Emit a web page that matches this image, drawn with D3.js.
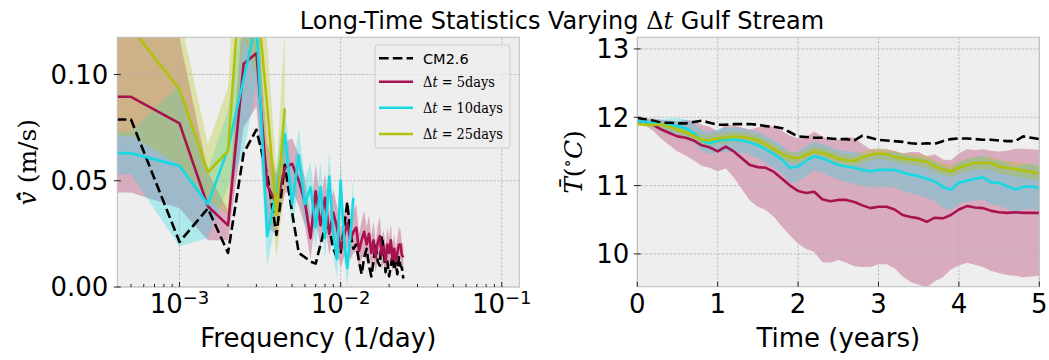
<!DOCTYPE html>
<html><head><meta charset="utf-8">
<script src="https://cdn.jsdelivr.net/npm/d3@7"></script>
<style>body{margin:0;background:#fff}</style>
</head><body>
<svg id="chart" width="1049" height="360" xmlns="http://www.w3.org/2000/svg"></svg>
<script>
// ---------- DATA: left panel (spectra) ----------
const freq = [0, 0.0005, 0.001, 0.0015, 0.002, 0.0025, 0.003, 0.0035, 0.004, 0.0045,
  0.005, 0.0055, 0.006, 0.0065, 0.007, 0.0075, 0.008, 0.0085, 0.009, 0.0095,
  0.01, 0.0105, 0.011, 0.0115, 0.012, 0.0125, 0.013, 0.0135, 0.014, 0.0145,
  0.015, 0.0155, 0.016, 0.0165, 0.017, 0.0175, 0.018, 0.0185, 0.019, 0.0195,
  0.02, 0.0205, 0.021, 0.0215, 0.022, 0.0225, 0.023, 0.0235, 0.024, 0.0245];
const specCM26 = [0.0788, 0.0788, 0.0212, 0.037, 0.016, 0.063, 0.074, 0.053, 0.0245, 0.0575,
  0.035, 0.016, 0.014, 0.012, 0.011, 0.020, 0.028, 0.028, 0.018, 0.014,
  0.016, 0.028, 0.040, 0.025, 0.018, 0.020, 0.012, 0.006, 0.014, 0.018,
  0.010, 0.005, 0.012, 0.020, 0.012, 0.010, 0.024, 0.018, 0.007, 0.012,
  0.005, 0.010, 0.015, 0.008, 0.012, 0.006, 0.014, 0.010, 0.009, 0.004];
const spec5 = [0.0895, 0.0895, 0.077, 0.038, 0.029, 0.105, 0.110, 0.048, 0.039, 0.056,
  0.058, 0.050, 0.040, 0.023, 0.045, 0.029, 0.042, 0.025, 0.035, 0.028,
  0.018, 0.024, 0.030, 0.022, 0.026, 0.028, 0.017, 0.022, 0.026, 0.020,
  0.025, 0.016, 0.022, 0.014, 0.021, 0.024, 0.015, 0.019, 0.012, 0.020,
  0.016, 0.022, 0.013, 0.018, 0.012, 0.016, 0.020, 0.020, 0.015, 0.014];
const spec5Spread = [0.045, 0.045, 0.040, 0.016, 0.007, 0.030, 0.025, 0.020, 0.014, 0.012,
  0.012, 0.012, 0.011, 0.010, 0.013, 0.010, 0.012, 0.010, 0.011, 0.010,
  0.009, 0.010, 0.011, 0.009, 0.010, 0.011, 0.008, 0.009, 0.010, 0.008,
  0.009, 0.008, 0.009, 0.007, 0.008, 0.009, 0.007, 0.008, 0.007, 0.008,
  0.007, 0.008, 0.006, 0.007, 0.006, 0.007, 0.008, 0.007, 0.006, 0.006];
const spec10 = [0.063, 0.063, 0.057, 0.039, 0.065, 0.098, 0.125, 0.024, 0.045, 0.072,
  0.039, 0.062, 0.039, 0.047, 0.028, 0.047, 0.023, 0.052, 0.025, 0.013,
  0.050, 0.022, 0.009, 0.025, 0.042];
const spec10Spread = [0.010, 0.010, 0.038, 0.016, 0.018, 0.035, 0.030, 0.014, 0.012, 0.014,
  0.012, 0.013, 0.011, 0.012, 0.010, 0.012, 0.010, 0.012, 0.010, 0.009,
  0.011, 0.009, 0.008, 0.009, 0.010];
const spec25 = [0.122, 0.122, 0.093, 0.054, 0.064, 0.167, 0.140, 0.085, 0.034, 0.084];
const spec25Spread = [0.051, 0.051, 0.0355, 0.013, 0.030, 0.050, 0.040, 0.030, 0.020, 0.038];

// ---------- DATA: right panel (temperature) ----------
const years = [0, 0.1, 0.2, 0.3, 0.4, 0.5, 0.6, 0.7, 0.8, 0.9,
  1.0, 1.1, 1.2, 1.3, 1.4, 1.5, 1.6, 1.7, 1.8, 1.9,
  2.0, 2.1, 2.2, 2.3, 2.4, 2.5, 2.6, 2.7, 2.8, 2.9,
  3.0, 3.1, 3.2, 3.3, 3.4, 3.5, 3.6, 3.7, 3.8, 3.9,
  4.0, 4.1, 4.2, 4.3, 4.4, 4.5, 4.6, 4.7, 4.8, 4.9, 5.0];
const tempCM26 = [11.99, 11.97, 11.95, 11.92, 11.92, 11.91, 11.91, 11.93, 11.95, 11.92,
  11.89, 11.89, 11.90, 11.90, 11.90, 11.89, 11.87, 11.86, 11.84, 11.78,
  11.72, 11.71, 11.70, 11.70, 11.69, 11.68, 11.68, 11.66, 11.73, 11.70,
  11.67, 11.66, 11.65, 11.64, 11.62, 11.61, 11.62, 11.61, 11.65, 11.68,
  11.69, 11.69, 11.68, 11.67, 11.67, 11.66, 11.65, 11.65, 11.72, 11.70, 11.68];
const temp5 = [11.95, 11.93, 11.89, 11.82, 11.77, 11.72, 11.70, 11.66, 11.59, 11.56,
  11.50, 11.57, 11.50, 11.40, 11.30, 11.27, 11.26, 11.20, 11.10, 11.00,
  10.92, 10.89, 10.91, 10.80, 10.77, 10.79, 10.79, 10.76, 10.71, 10.67,
  10.69, 10.69, 10.65, 10.57, 10.54, 10.52, 10.47, 10.53, 10.52, 10.57,
  10.65, 10.70, 10.68, 10.67, 10.63, 10.61, 10.60, 10.61, 10.60, 10.60, 10.60];
const temp5Spread = [0.02, 0.05, 0.09, 0.14, 0.18, 0.22, 0.26, 0.29, 0.30, 0.30,
  0.29, 0.32, 0.38, 0.45, 0.52, 0.58, 0.62, 0.66, 0.70, 0.73,
  0.77, 0.82, 0.88, 0.92, 0.90, 0.88, 0.92, 0.94, 0.90, 0.86,
  0.84, 0.84, 0.86, 0.90, 0.95, 0.97, 0.96, 0.93, 0.86, 0.80,
  0.82, 0.83, 0.84, 0.86, 0.88, 0.89, 0.91, 0.93, 0.94, 0.93, 0.92];
const temp10 = [11.95, 11.93, 11.91, 11.89, 11.88, 11.87, 11.84, 11.77, 11.66, 11.62,
  11.66, 11.67, 11.67, 11.66, 11.63, 11.59, 11.53, 11.46, 11.38, 11.26,
  11.28, 11.36, 11.43, 11.40, 11.35, 11.30, 11.28, 11.26, 11.23, 11.21,
  11.23, 11.23, 11.23, 11.19, 11.16, 11.14, 11.10, 11.06, 10.98, 10.94,
  11.04, 11.07, 11.10, 11.12, 11.05, 11.04, 10.99, 10.94, 10.98, 10.99, 10.96];
const temp10Spread = [0.02, 0.04, 0.06, 0.08, 0.10, 0.12, 0.13, 0.14, 0.15, 0.16,
  0.17, 0.18, 0.18, 0.18, 0.18, 0.19, 0.20, 0.20, 0.21, 0.22,
  0.22, 0.22, 0.21, 0.21, 0.22, 0.22, 0.23, 0.23, 0.24, 0.24,
  0.25, 0.25, 0.26, 0.27, 0.27, 0.28, 0.28, 0.29, 0.30, 0.30,
  0.31, 0.31, 0.32, 0.32, 0.33, 0.33, 0.33, 0.33, 0.33, 0.33, 0.33];
const temp25 = [11.90, 11.89, 11.89, 11.89, 11.86, 11.82, 11.78, 11.73, 11.67, 11.66,
  11.69, 11.70, 11.72, 11.71, 11.69, 11.66, 11.60, 11.53, 11.46, 11.41,
  11.40, 11.45, 11.50, 11.48, 11.44, 11.39, 11.37, 11.36, 11.41, 11.45,
  11.47, 11.46, 11.42, 11.40, 11.38, 11.37, 11.35, 11.28, 11.24, 11.21,
  11.26, 11.30, 11.33, 11.33, 11.33, 11.28, 11.26, 11.24, 11.22, 11.20, 11.18];
const temp25Spread = [0.02, 0.03, 0.04, 0.05, 0.05, 0.06, 0.06, 0.07, 0.07, 0.08,
  0.08, 0.08, 0.08, 0.08, 0.08, 0.08, 0.08, 0.08, 0.08, 0.08,
  0.08, 0.08, 0.08, 0.08, 0.08, 0.08, 0.08, 0.08, 0.08, 0.08,
  0.08, 0.08, 0.08, 0.08, 0.08, 0.09, 0.09, 0.09, 0.09, 0.09,
  0.09, 0.09, 0.09, 0.09, 0.10, 0.10, 0.10, 0.10, 0.11, 0.11, 0.11];

// ---------- labels / ticks ----------
const titleParts = ["Long-Time Statistics Varying ", "\u0394", "t", " Gulf Stream"];
const seriesNames = ["CM2.6", "5days", "10days", "25days"];
const leftXTicks = [1e-3, 1e-2, 1e-1];
const leftXTickExp = ["\u22123", "\u22122", "\u22121"];
const leftYTicks = [0, 0.05, 0.10];
const leftYTickLabels = ["0.00", "0.05", "0.10"];
const rightXTicks = [0, 1, 2, 3, 4, 5];
const rightYTicks = [10, 11, 12, 13];
const leftXLabel = "Frequency (1/day)";
const rightXLabel = "Time (years)";

// ---------- styles ----------
const SANS = "DejaVu Sans", SERIF = "DejaVu Serif";
const BG = "#eeeeee", SPINE = "#bcbcbc", GRID = "#b2b2b2";
const COL = ["#000000", "#a8124f", "#16d9e3", "#b2c20c"];
const FILL_OP = 0.3, LW = 2.6;

const svg = d3.select("#chart");

// scales
const xL = d3.scaleLog().domain([4.11e-4, 0.1285]).range([117.3, 519.3]);
const yL = d3.scaleLinear().domain([0, 0.1175]).range([287, 37.3]);
const xR = d3.scaleLinear().domain([0, 5]).range([637.3, 1039.3]);
const yR = d3.scaleLinear().domain([9.52, 13.17]).range([286.7, 37.3]);
const fx = f => xL(f > 0 ? f : 1e-300); // matplotlib-like clipping of non-positive on log axis

function makePanel(id, x, y) {
  const [x0, x1] = x.range(), [yb, yt] = y.range();
  svg.append("rect").attr("x", x0).attr("y", yt).attr("width", x1 - x0).attr("height", yb - yt).attr("fill", BG);
  svg.append("clipPath").attr("id", id).append("rect")
    .attr("x", x0).attr("y", yt).attr("width", x1 - x0).attr("height", yb - yt);
  return {
    fills: svg.append("g").attr("clip-path", `url(#${id})`),
    grid: svg.append("g"),
    lines: svg.append("g").attr("clip-path", `url(#${id})`),
    axes: svg.append("g"),
    x0, x1, yb, yt
  };
}

const P1 = makePanel("clipL", xL, yL);
const P2 = makePanel("clipR", xR, yR);

// ---------- left panel marks ----------
const specSeries = [
  {v: specCM26, s: null, c: COL[0], dash: true},
  {v: spec5, s: spec5Spread, c: COL[1]},
  {v: spec10, s: spec10Spread, c: COL[2]},
  {v: spec25, s: spec25Spread, c: COL[3]}
];
specSeries.forEach(ser => {
  if (!ser.s) return;
  const pts = ser.v.map((v, i) => ({f: freq[i], lo: v - ser.s[i], hi: v + ser.s[i]}));
  P1.fills.append("path").attr("d", d3.area().x(d => fx(d.f)).y0(d => yL(d.lo)).y1(d => yL(d.hi))(pts))
    .attr("fill", ser.c).attr("fill-opacity", FILL_OP);
});
specSeries.forEach(ser => {
  const pts = ser.v.map((v, i) => [freq[i], v]);
  P1.lines.append("path").attr("d", d3.line().x(d => fx(d[0])).y(d => yL(d[1]))(pts))
    .attr("fill", "none").attr("stroke", ser.c).attr("stroke-width", LW)
    .attr("stroke-linejoin", "round")
    .attr("stroke-dasharray", ser.dash ? "9.6,4.2" : null);
});

// ---------- right panel marks ----------
const tempSeries = [
  {v: tempCM26, s: null, c: COL[0], dash: true},
  {v: temp5, s: temp5Spread, c: COL[1]},
  {v: temp10, s: temp10Spread, c: COL[2]},
  {v: temp25, s: temp25Spread, c: COL[3]}
];
tempSeries.forEach(ser => {
  if (!ser.s) return;
  const pts = ser.v.map((v, i) => ({t: years[i], lo: v - ser.s[i], hi: v + ser.s[i]}));
  P2.fills.append("path").attr("d", d3.area().x(d => xR(d.t)).y0(d => yR(d.lo)).y1(d => yR(d.hi))(pts))
    .attr("fill", ser.c).attr("fill-opacity", FILL_OP);
});
tempSeries.forEach(ser => {
  const pts = ser.v.map((v, i) => [years[i], v]);
  P2.lines.append("path").attr("d", d3.line().x(d => xR(d[0])).y(d => yR(d[1]))(pts))
    .attr("fill", "none").attr("stroke", ser.c).attr("stroke-width", LW)
    .attr("stroke-linejoin", "round")
    .attr("stroke-dasharray", ser.dash ? "9.6,4.2" : null);
});

// ---------- grids ----------
function grid(P, xs, ys, x, y) {
  xs.forEach(v => P.grid.append("line").attr("x1", x(v)).attr("x2", x(v)).attr("y1", P.yt).attr("y2", P.yb)
    .attr("stroke", GRID).attr("stroke-width", 0.8).attr("stroke-dasharray", "2.5,1.5"));
  ys.forEach(v => P.grid.append("line").attr("x1", P.x0).attr("x2", P.x1).attr("y1", y(v)).attr("y2", y(v))
    .attr("stroke", GRID).attr("stroke-width", 0.8).attr("stroke-dasharray", "2.5,1.5"));
}
grid(P1, leftXTicks, leftYTicks, xL, yL);
grid(P2, rightXTicks, rightYTicks, xR, yR);

// ---------- spines & ticks ----------
function frame(P) {
  P.axes.append("rect").attr("x", P.x0).attr("y", P.yt).attr("width", P.x1 - P.x0).attr("height", P.yb - P.yt)
    .attr("fill", "none").attr("stroke", SPINE).attr("stroke-width", 1);
}
frame(P1); frame(P2);

function tickX(P, px, len) {
  P.axes.append("line").attr("x1", px).attr("x2", px).attr("y1", P.yb).attr("y2", P.yb - len)
    .attr("stroke", "#222").attr("stroke-width", 1);
}
function tickY(P, py) {
  P.axes.append("line").attr("x1", P.x0 - 3.5).attr("x2", P.x0 + 3.5).attr("y1", py).attr("y2", py)
    .attr("stroke", "#222").attr("stroke-width", 1);
}
// left x major + minor
leftXTicks.forEach((v, i) => {
  const px = xL(v);
  tickX(P1, px, 5);
  const t = P1.axes.append("text").attr("x", px).attr("y", 313).attr("text-anchor", "middle")
    .attr("font-family", SANS).attr("font-size", 26).attr("fill", "#000");
  t.append("tspan").text("10");
  t.append("tspan").attr("font-size", 18).attr("dy", -9).text(leftXTickExp[i]);
});
const [dmin, dmax] = xL.domain();
for (let e = -4; e <= -1; e++) {
  for (let m = 2; m <= 9; m++) {
    const v = m * Math.pow(10, e);
    if (v > dmin && v < dmax) tickX(P1, xL(v), 3);
  }
}
leftYTicks.forEach((v, i) => {
  tickY(P1, yL(v));
  P1.axes.append("text").attr("x", P1.x0 - 9).attr("y", yL(v)).attr("dy", "0.36em")
    .attr("text-anchor", "end").attr("font-family", SANS).attr("font-size", 26).text(leftYTickLabels[i]);
});
rightXTicks.forEach(v => {
  tickX(P2, xR(v), 5);
  P2.axes.append("text").attr("x", xR(v)).attr("y", 313).attr("text-anchor", "middle")
    .attr("font-family", SANS).attr("font-size", 26).text(v);
});
rightYTicks.forEach(v => {
  tickY(P2, yR(v));
  P2.axes.append("text").attr("x", P2.x0 - 8).attr("y", yR(v)).attr("dy", "0.36em")
    .attr("text-anchor", "end").attr("font-family", SANS).attr("font-size", 26).text(v);
});

// ---------- axis labels ----------
svg.append("text").attr("x", (P1.x0 + P1.x1) / 2).attr("y", 347).attr("text-anchor", "middle")
  .attr("font-family", SANS).attr("font-size", 26).text(leftXLabel);
svg.append("text").attr("x", (P2.x0 + P2.x1) / 2).attr("y", 347).attr("text-anchor", "middle")
  .attr("font-family", SANS).attr("font-size", 26).text(rightXLabel);

const yl1 = svg.append("text").attr("transform", `translate(36,${(P1.yt + P1.yb) / 2}) rotate(-90)`)
  .attr("text-anchor", "middle").attr("font-family", SERIF).attr("font-size", 25);
yl1.append("tspan").attr("font-style", "italic").text("v\u0304\u0302");
yl1.append("tspan").text(" (m/s)");

const yl2 = svg.append("text").attr("transform", `translate(582,${(P2.yt + P2.yb) / 2}) rotate(-90)`)
  .attr("text-anchor", "middle").attr("font-family", SERIF).attr("font-size", 25);
yl2.append("tspan").attr("font-style", "italic").text("T\u0304");
yl2.append("tspan").text("(");
yl2.append("tspan").attr("font-size", 17).attr("dy", -9).text("\u2218");
yl2.append("tspan").attr("font-style", "italic").attr("dy", 9).text("C");
yl2.append("tspan").text(")");

// ---------- title ----------
const title = svg.append("text").attr("x", 562).attr("y", 28.5).attr("text-anchor", "middle")
  .attr("font-family", SANS).attr("font-size", 24);
title.append("tspan").text(titleParts[0]);
title.append("tspan").attr("font-family", SERIF).text(titleParts[1]);
title.append("tspan").attr("font-family", SERIF).attr("font-style", "italic").text(titleParts[2]);
title.append("tspan").text(titleParts[3]);

// ---------- legend ----------
const lg = svg.append("g");
lg.append("rect").attr("x", 375).attr("y", 45).attr("width", 135).attr("height", 103).attr("rx", 3)
  .attr("fill", "#eeeeee").attr("fill-opacity", 0.8).attr("stroke", "#cccccc").attr("stroke-width", 1);
const legY = [58.3, 81.7, 107.7, 134];
const legW = [null, 72, 80, 80];
seriesNames.forEach((name, i) => {
  lg.append("line").attr("x1", 379).attr("x2", 413).attr("y1", legY[i]).attr("y2", legY[i])
    .attr("stroke", COL[i]).attr("stroke-width", LW)
    .attr("stroke-dasharray", i === 0 ? "9.6,4.2" : null);
  const t = lg.append("text").attr("x", 423).attr("y", legY[i]).attr("dy", "0.36em").attr("font-size", 14.5);
  if (i === 0) {
    t.attr("font-family", SANS).text(name);
  } else {
    t.attr("font-family", SERIF).attr("textLength", legW[i]).attr("lengthAdjust", "spacingAndGlyphs");
    t.append("tspan").text("\u0394");
    t.append("tspan").attr("font-style", "italic").text("t");
    t.append("tspan").text(" = " + name);
  }
});
</script>
</body></html>
